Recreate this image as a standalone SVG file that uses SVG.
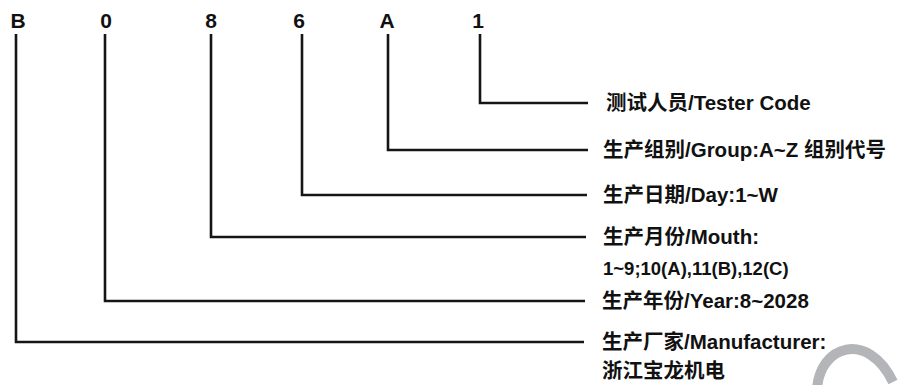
<svg xmlns="http://www.w3.org/2000/svg" width="898" height="385" viewBox="0 0 898 385">
<style>
.code{font-family:"Liberation Sans","Noto Sans CJK SC",sans-serif;font-weight:bold;font-size:21px;fill:#111;text-anchor:middle}
.lbl{font-family:"Liberation Sans","Noto Sans CJK SC",sans-serif;font-weight:bold;font-size:20.5px;fill:#111}
.sub{font-size:18.5px}
.conn{fill:none;stroke:#151515;stroke-width:2.6}
</style>
<rect width="898" height="385" fill="#fff"/>
<g id="codes">
<g id="node-B"><text class="code" x="18" y="28">B</text></g>
<g id="node-0"><text class="code" x="106" y="28">0</text></g>
<g id="node-8"><text class="code" x="211" y="28">8</text></g>
<g id="node-6"><text class="code" x="299" y="28">6</text></g>
<g id="node-A"><text class="code" x="387" y="28">A</text></g>
<g id="node-1"><text class="code" x="478" y="28">1</text></g>
</g>
<g id="connectors">
<polyline class="conn" points="16,34 16,342 584,342"/>
<polyline class="conn" points="105,34 105,301 585,301"/>
<polyline class="conn" points="211,34 211,237 586,237"/>
<polyline class="conn" points="302,34 302,195 587,195"/>
<polyline class="conn" points="388,34 388,150 588,150"/>
<polyline class="conn" points="480,34 480,103 588,103"/>
</g>
<g id="label-tester"><text class="lbl" x="606" y="110">测试人员/Tester Code</text></g>
<g id="label-group"><text class="lbl" x="603" y="157">生产组别/Group:A~Z 组别代号</text></g>
<g id="label-day"><text class="lbl" x="603" y="202">生产日期/Day:1~W</text></g>
<g id="label-month"><text class="lbl" x="603" y="244">生产月份/Mouth:</text><text class="lbl sub" x="603" y="275">1~9;10(A),11(B),12(C)</text></g>
<g id="label-year"><text class="lbl" x="602" y="308">生产年份/Year:8~2028</text></g>
<g id="label-maker"><text class="lbl" x="602" y="349">生产厂家/Manufacturer:</text><text class="lbl" x="602" y="378">浙江宝龙机电</text></g>
<path d="M 817 390 C 819 345, 868 330, 893 382" fill="none" stroke="#b4b5b8" stroke-width="10"/>
</svg>
